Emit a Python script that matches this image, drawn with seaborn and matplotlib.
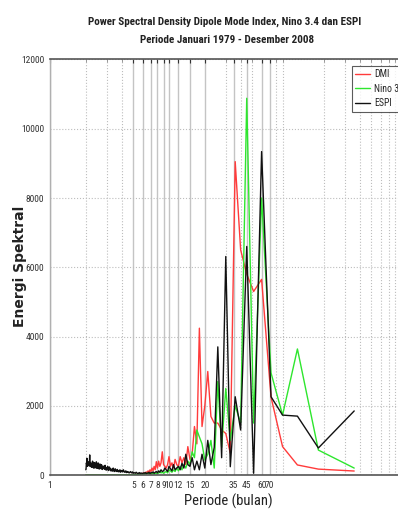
import numpy as np
import pandas as pd
import matplotlib
matplotlib.use("Agg")
import matplotlib.pyplot as plt
from matplotlib import font_manager
from matplotlib.ticker import FixedLocator, FixedFormatter, LogLocator, NullFormatter
import seaborn as sns

# Periodogram of monthly series, Jan 1979 - Dec 2008 (360 months)
n_bulan = 360
harmonik = np.arange(1, 181)
periode = n_bulan / harmonik

# Spectral energy per harmonic k = 1..180
dmi = [
    115, 170, 290, 820, 2250, 5650, 5300, 5800, 6500, 9050,
    630, 1200, 1300, 1500, 1500, 1690, 2990, 2000, 1400, 4240,
    900, 1400, 600, 450, 820, 300, 500, 350, 530, 250,
    300, 450, 200, 350, 250, 530, 300, 200, 250, 300,
    670, 350, 250, 400, 200, 385, 150, 250, 120, 200,
    100, 150, 80, 120, 60, 90, 50, 70, 40, 50,
    30, 40, 20, 30, 20, 25, 15, 20, 10, 15,
    12, 10, 15, 8, 10, 12, 8, 10, 6, 8,
    10, 6, 8, 5, 7, 6, 5, 8, 6, 5,
    6, 5, 7, 5, 6, 4, 5, 6, 4, 5,
    5, 4, 6, 4, 5, 4, 5, 3, 4, 5,
    4, 3, 5, 4, 3, 4, 5, 3, 4, 3,
    4, 3, 4, 3, 5, 3, 4, 3, 4, 3,
    3, 4, 3, 4, 3, 3, 4, 3, 3, 4,
    3, 3, 4, 3, 3, 4, 3, 3, 4, 3,
    3, 4, 3, 3, 4, 3, 3, 4, 3, 3,
    4, 3, 3, 4, 3, 3, 4, 3, 3, 4,
    3, 3, 4, 3, 3, 4, 3, 3, 4, 3,
]
nino34 = [
    200, 720, 3640, 1730, 2950, 8000, 1500, 10880, 1500, 2000,
    1000, 2500, 800, 2700, 200, 1000, 600, 430, 900, 1100,
    1300, 500, 670, 300, 400, 200, 300, 150, 250, 120,
    200, 100, 150, 80, 120, 150, 60, 100, 80, 50,
    80, 60, 100, 50, 70, 40, 60, 30, 50, 40,
    50, 30, 45, 35, 50, 30, 40, 25, 35, 30,
    25, 30, 20, 25, 20, 15, 20, 15, 12, 15,
    10, 12, 8, 10, 8, 6, 8, 6, 5, 6,
    5, 6, 5, 4, 5, 4, 5, 4, 3, 4,
    4, 3, 4, 3, 4, 3, 3, 4, 3, 3,
    3, 4, 3, 3, 4, 3, 3, 3, 4, 3,
    3, 3, 4, 3, 3, 3, 4, 3, 3, 3,
    3, 3, 4, 3, 3, 3, 3, 4, 3, 3,
    3, 3, 3, 4, 3, 3, 3, 3, 4, 3,
    3, 3, 3, 3, 4, 3, 3, 3, 3, 4,
    3, 3, 3, 3, 3, 4, 3, 3, 3, 3,
    4, 3, 3, 3, 3, 3, 4, 3, 3, 3,
    3, 4, 3, 3, 3, 3, 3, 4, 3, 3,
]
espi = [
    1850, 780, 1700, 1730, 2260, 9340, 50, 6600, 1300, 2260,
    240, 6310, 500, 3700, 800, 300, 1000, 200, 600, 150,
    400, 150, 500, 250, 300, 600, 200, 340, 150, 250,
    200, 150, 300, 120, 180, 250, 100, 150, 200, 120,
    100, 150, 80, 120, 60, 100, 80, 50, 90, 60,
    70, 40, 80, 50, 60, 40, 70, 50, 60, 40,
    50, 60, 40, 70, 50, 40, 60, 80, 50, 60,
    70, 50, 90, 60, 80, 100, 70, 60, 90, 80,
    100, 70, 120, 90, 80, 110, 150, 90, 100, 130,
    100, 80, 150, 120, 90, 130, 100, 160, 120, 100,
    140, 180, 120, 100, 160, 200, 130, 110, 170, 140,
    120, 190, 150, 230, 170, 130, 200, 250, 160, 140,
    180, 220, 150, 280, 200, 170, 240, 190, 260, 210,
    160, 230, 300, 180, 250, 200, 320, 220, 170, 280,
    240, 350, 200, 260, 190, 300, 380, 220, 250, 330,
    200, 280, 360, 240, 200, 310, 270, 400, 250, 220,
    330, 280, 240, 360, 300, 250, 580, 320, 280, 380,
    300, 300, 350, 250, 400, 480, 300, 350, 200, 150,
]

seri_nama = ["DMI", "Nino 3.4", "ESPI"]
warna = {"DMI": "#ff3b3b", "Nino 3.4": "#2ee62e", "ESPI": "#111111"}

xtick_vals = [1, 5, 6, 7, 8, 9, 10, 12, 15, 20, 35, 45, 60, 70]
xtick_text = ["1", "5", "6", "7", "8", "9", "10", "12", "15", "20", "35", "45", "60", "70"]
ytick_vals = [0, 2000, 4000, 6000, 8000, 10000, 12000]

df = pd.DataFrame({
    "periode": np.concatenate([periode] * 3),
    "energi": np.concatenate([dmi, nino34, espi]),
    "seri": np.repeat(seri_nama, len(periode)),
})

sns.set_style("white")


def pick_font(cands):
    names = {f.name for f in font_manager.fontManager.ttflist}
    for c in cands:
        if c in names:
            return c
    return "DejaVu Sans"


narrow = pick_font(["Liberation Sans Narrow", "Arial Narrow", "Roboto Condensed",
                    "Open Sans Condensed", "DejaVu Sans"])
plt.rcParams["font.family"] = [narrow, "DejaVu Sans"]

fig = plt.figure(figsize=(3.98, 5.11), dpi=100)
ax = fig.add_axes([50 / 398, 36 / 511, 357 / 398, 415.5 / 511])

sns.lineplot(data=df, x="periode", y="energi", hue="seri", hue_order=seri_nama,
             palette=warna, estimator=None, sort=True, linewidth=1.0, ax=ax,
             legend=True)

ax.set_xscale("log")
ax.set_xlim(1, 1000)
ax.set_ylim(0, 12000)

ax.xaxis.set_major_locator(FixedLocator(xtick_vals))
ax.xaxis.set_major_formatter(FixedFormatter(xtick_text))
ax.xaxis.set_minor_locator(LogLocator(base=10, subs=np.arange(2, 10)))
ax.xaxis.set_minor_formatter(NullFormatter())
ax.set_yticks(ytick_vals)
ax.set_yticklabels([str(v) for v in ytick_vals])

ax.grid(which="major", axis="x", color="#c4c4c4", linestyle="-", linewidth=1.0)
ax.grid(which="minor", axis="x", color="#bdbdbd", linestyle=":", linewidth=0.8)
ax.grid(which="major", axis="y", color="#bdbdbd", linestyle=":", linewidth=0.8)
ax.set_axisbelow(True)

for side in ["top", "bottom"]:
    ax.spines[side].set_color("#555555")
    ax.spines[side].set_linewidth(1.2)
ax.spines["left"].set_color("#b0b0b0")
ax.spines["left"].set_linewidth(1.0)
ax.spines["right"].set_visible(False)

ax.tick_params(axis="both", which="major", labelsize=6.8, length=3, direction="in",
               colors="#333333", pad=2)
ax.tick_params(axis="x", which="minor", length=2.5, direction="in", colors="#888888",
               top=True)
ax.tick_params(axis="x", which="major", pad=4, top=True)
ax.tick_params(axis="y", direction="inout", length=4)

ax.set_xlabel("Periode (bulan)", fontsize=10.5, color="#222222", labelpad=3)
ax.set_ylabel("")
fig.text(20 / 398, 1 - 266 / 511, "Energi Spektral", rotation=90,
         ha="center", va="center", fontsize=10, fontweight="bold",
         family=["DejaVu Sans"], color="#222222")

fig.text(225 / 398, 1 - 22 / 511, "Power Spectral Density Dipole Mode Index, Nino 3.4 dan ESPI",
         ha="center", va="center", fontsize=8, fontweight="bold", color="#222222")
fig.text(227 / 398, 1 - 40 / 511, "Periode Januari 1979 - Desember 2008",
         ha="center", va="center", fontsize=8, fontweight="bold", color="#222222")

leg = ax.legend(loc="upper left", bbox_to_anchor=(352 / 398, 1 - 66 / 511),
                bbox_transform=fig.transFigure, frameon=True, fancybox=False,
                fontsize=7, handlelength=1.45, handletextpad=0.5, borderpad=0.35,
                labelspacing=0.45, borderaxespad=0, title=None)
leg.get_frame().set_edgecolor("#333333")
leg.get_frame().set_linewidth(0.8)

fig.savefig("out.png", dpi=100)
